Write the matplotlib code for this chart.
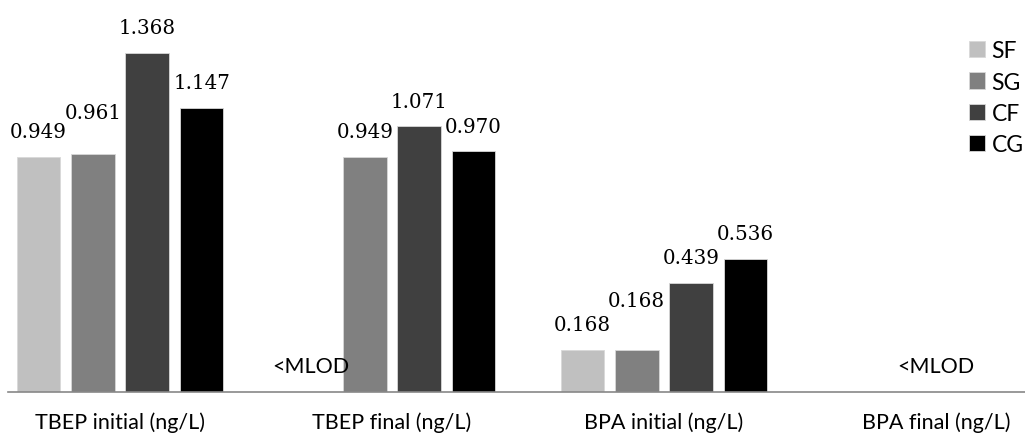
import numpy as np
import matplotlib
matplotlib.use("Agg")
import matplotlib.pyplot as plt

categories = ["TBEP initial (ng/L)", "TBEP final (ng/L)", "BPA initial (ng/L)", "BPA final (ng/L)"]
series = ["SF", "SG", "CF", "CG"]
SF = [0.949, np.nan, 0.168, np.nan]
SG = [0.961, 0.949, 0.168, np.nan]
CF = [1.368, 1.071, 0.439, np.nan]
CG = [1.147, 0.970, 0.536, np.nan]
values = [SF, SG, CF, CG]
below_label = "<MLOD"

colors = ["#c0c0c0", "#808080", "#404040", "#000000"]

fig = plt.figure(figsize=(10.25, 4.39), dpi=100)
W, H = 1025, 439
base_px = 392.5
ax = fig.add_axes([8 / W, (H - base_px) / H, 1 - 8 / W, base_px / H])

px_per_unit = 247.6
spacing_px = 272.0
x0_px = 120.0
ax.set_ylim(0, base_px / px_per_unit)
ax.set_xlim((8 - x0_px) / spacing_px, (W - x0_px) / spacing_px)

x = np.arange(len(categories))
offsets = [-0.3, -0.1, 0.1, 0.3]
width = 0.16

# label offsets above bar top, in pixels (manual label placement of original)
label_lift = {(0, 1): 41, (2, 1): 49}

for i, (name, vals, c) in enumerate(zip(series, values, colors)):
    v = np.array(vals, dtype=float)
    ax.bar(x + offsets[i], np.nan_to_num(v), width, color=c, label=name,
           edgecolor="#d8d8d8", linewidth=0.6)
    for j, val in enumerate(v):
        if np.isnan(val):
            continue
        lift = label_lift.get((j, i), 25)
        ax.annotate(f"{val:.3f}", xy=(x[j] + offsets[i], val),
                    xytext=(0, lift * 0.72), textcoords="offset points",
                    ha="center", va="center", fontsize=14.3, family="DejaVu Serif",
                    color="#000000")

# <MLOD annotations
for xm in (x[1] + offsets[0], x[3]):
    ax.annotate(below_label, xy=(xm, 0), xytext=(0, 25 * 0.72),
                textcoords="offset points", ha="center", va="center", fontsize=15.5,
                family="Lato", color="#000000")

for s in ["top", "right", "left"]:
    ax.spines[s].set_visible(False)
ax.spines["bottom"].set_color("#888888")
ax.spines["bottom"].set_linewidth(1.2)
ax.set_yticks([])
ax.set_xticks(x)
ax.set_xticklabels(categories, fontsize=15.5, family="Lato")
ax.tick_params(axis="x", length=0, pad=14)

leg = ax.legend(loc="upper right", bbox_to_anchor=(1.012, 0.93), frameon=False,
                prop={"family": "Lato", "size": 16.5}, handlelength=0.7,
                handleheight=0.7, handletextpad=0.3, labelspacing=0.45,
                borderaxespad=0.2)

fig.savefig("out.png", dpi=100)
